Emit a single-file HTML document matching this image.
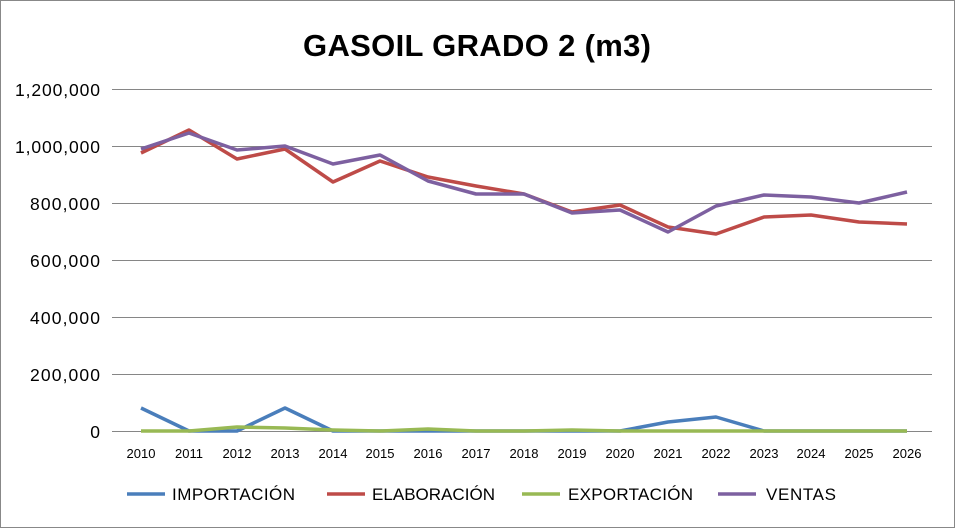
<!DOCTYPE html>
<html><head><meta charset="utf-8"><style>
body{margin:0;background:#fff}
svg{display:block;font-family:"Liberation Sans",Arial,sans-serif}
</style></head><body>
<svg width="955" height="528" viewBox="0 0 955 528" xmlns="http://www.w3.org/2000/svg">
<rect x="0.5" y="0.5" width="954" height="527" fill="#fff" stroke="#888"/>
<text x="477" y="56" text-anchor="middle" font-size="31" font-weight="bold" fill="#000" textLength="348">GASOIL GRADO 2 (m3)</text>
<g stroke="#868686" stroke-width="1">
<line x1="112" y1="89.5" x2="932" y2="89.5"/>
<line x1="112" y1="146.5" x2="932" y2="146.5"/>
<line x1="112" y1="203.5" x2="932" y2="203.5"/>
<line x1="112" y1="260.5" x2="932" y2="260.5"/>
<line x1="112" y1="317.5" x2="932" y2="317.5"/>
<line x1="112" y1="374.5" x2="932" y2="374.5"/>
<line x1="112" y1="431.5" x2="932" y2="431.5"/>
</g>
<g font-size="17.5" text-anchor="end" fill="#000">
<text x="100" y="96" textLength="85">1,200,000</text>
<text x="100" y="153" textLength="85">1,000,000</text>
<text x="100" y="210" textLength="70">800,000</text>
<text x="100" y="267" textLength="70">600,000</text>
<text x="100" y="324" textLength="70">400,000</text>
<text x="100" y="381" textLength="70">200,000</text>
<text x="100" y="438">0</text>
</g>
<g font-size="13" text-anchor="middle" fill="#000">
<text x="141" y="458">2010</text><text x="189" y="458">2011</text><text x="237" y="458">2012</text><text x="285" y="458">2013</text><text x="333" y="458">2014</text><text x="380" y="458">2015</text><text x="428" y="458">2016</text><text x="476" y="458">2017</text><text x="524" y="458">2018</text><text x="572" y="458">2019</text><text x="620" y="458">2020</text><text x="668" y="458">2021</text><text x="716" y="458">2022</text><text x="764" y="458">2023</text><text x="811" y="458">2024</text><text x="859" y="458">2025</text><text x="907" y="458">2026</text>
</g>
<g fill="none" stroke-width="3.5" stroke-linejoin="round">
<polyline stroke="#4A7EBB" points="141,408 189,431 237,431 285,408 333,431 380,431 428,431 476,431 524,431 572,431 620,431 668,422 716,417 764,431 811,431 859,431 907,431"/>
<polyline stroke="#98B954" points="141,431 189,431 237,427 285,428 333,430 380,431 428,429 476,431 524,431 572,430 620,431 668,431 716,431 764,431 811,431 859,431 907,431"/>
<polyline stroke="#BE4B48" points="141,153 189,130 237,159 285,149 333,182 380,161 428,177 476,186 524,194 572,212 620,205 668,227 716,234 764,217 811,215 859,222 907,224"/>
<polyline stroke="#7D60A0" points="141,149 189,133 237,150 285,146 333,164 380,155 428,181 476,194 524,194 572,213 620,210 668,232 716,206 764,195 811,197 859,203 907,192"/>
</g>
<g stroke-width="3.5">
<line x1="127" y1="494" x2="165" y2="494" stroke="#4A7EBB"/>
<line x1="327" y1="494" x2="365" y2="494" stroke="#BE4B48"/>
<line x1="522" y1="494" x2="560" y2="494" stroke="#98B954"/>
<line x1="718" y1="494" x2="756" y2="494" stroke="#7D60A0"/>
</g>
<g font-size="17" fill="#000">
<text x="172" y="500" textLength="123">IMPORTACIÓN</text>
<text x="372" y="500" textLength="123">ELABORACIÓN</text>
<text x="568" y="500" textLength="125">EXPORTACIÓN</text>
<text x="766" y="500" textLength="70">VENTAS</text>
</g>
</svg>
</body></html>
